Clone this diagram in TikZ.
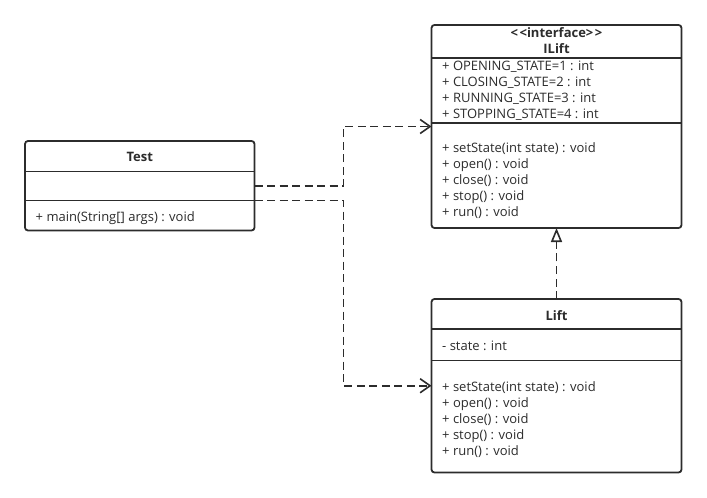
\documentclass[tikz,border=0pt]{standalone}
\usepackage{fontspec}
\setmainfont{Open Sans}
\usetikzlibrary{arrows.meta}
\definecolor{ink}{HTML}{2C2C2C}
\begin{document}
\begin{tikzpicture}[x=1bp,y=-1bp,
  classbox/.style={draw=ink, line width=1.8bp, rounded corners=3bp, fill=white,
    inner sep=0, outer sep=0, anchor=north west},
  divider/.style={draw=ink, line width=1.8bp},
  member/.style={anchor=base west, inner sep=0, text=ink,
    font=\fontsize{13bp}{15bp}\selectfont},
  title/.style={anchor=base, inner sep=0, text=ink,
    font=\fontsize{13bp}{15bp}\selectfont\bfseries},
  dep/.style={draw=ink, line width=1.9bp, dash pattern=on 8bp off 4.5bp,
    -{Straight Barb[length=10bp,width=14bp,line width=1.6bp]}},
  real/.style={draw=ink, line width=1.9bp, dash pattern=on 8bp off 4.5bp,
    -{Triangle[open,length=14bp,width=11bp,fill=white,line width=1.6bp]}}
]
\useasboundingbox (0,0) rectangle (707,498);

% ---- class Test ----
\node[classbox, minimum width=229.5bp, minimum height=89.5bp] (test) at (25,141) {};
\draw[divider] (test.west |- 0,171.5) -- (test.east |- 0,171.5);
\draw[divider] (test.west |- 0,200.5) -- (test.east |- 0,200.5);
\node[title] (testname) at (test.north |- 0,161.5) {Test};
\node[member] (testop) at (35.5,221.5) {+ main(String[] args) : void};

% ---- interface ILift ----
\node[classbox, minimum width=250bp, minimum height=203bp] (iface) at (431.5,25) {};
\draw[divider] (iface.west |- 0,58) -- (iface.east |- 0,58);
\draw[divider] (iface.west |- 0,123) -- (iface.east |- 0,123);
\node[title] (ifstereo) at (iface.north |- 0,37.5) {{<}\kern1.5bp{<}interface{>}\kern1.5bp{>}};
\node[title] (ifname) at (iface.north |- 0,53.5) {ILift};
\node[member] (ifa1) at (442,71) {+ OPENING\_STATE=1 : int};
\node[member] (ifa2) at (442,86.8) {+ CLOSING\_STATE=2 : int};
\node[member] (ifa3) at (442,102.5) {+ RUNNING\_STATE=3 : int};
\node[member] (ifa4) at (442,118.3) {+ STOPPING\_STATE=4 : int};
\node[member] (ifm1) at (442,152.5) {+ setState(int state) : void};
\node[member] (ifm2) at (442,168.5) {+ open() : void};
\node[member] (ifm3) at (442,184.5) {+ close() : void};
\node[member] (ifm4) at (442,200.5) {+ stop() : void};
\node[member] (ifm5) at (442,216.5) {+ run() : void};

% ---- class Lift ----
\node[classbox, minimum width=250bp, minimum height=173.5bp] (lift) at (431.5,299) {};
\draw[divider] (lift.west |- 0,329) -- (lift.east |- 0,329);
\draw[divider] (lift.west |- 0,360.5) -- (lift.east |- 0,360.5);
\node[title] (liftname) at (lift.north |- 0,320) {Lift};
\node[member] (lfa1) at (442,350) {- state : int};
\node[member] (lfm1) at (442,391) {+ setState(int state) : void};
\node[member] (lfm2) at (442,407) {+ open() : void};
\node[member] (lfm3) at (442,423) {+ close() : void};
\node[member] (lfm4) at (442,439) {+ stop() : void};
\node[member] (lfm5) at (442,455) {+ run() : void};

% ---- relations ----
\draw[dep] (test.east) -- ++(89,0) |- (iface.west);
\draw[dep] ([yshift=-14.75bp]test.east) -- ++(89,0) |- (lift.west);
\draw[real] (lift.north) -- (iface.south);
\end{tikzpicture}
\end{document}
